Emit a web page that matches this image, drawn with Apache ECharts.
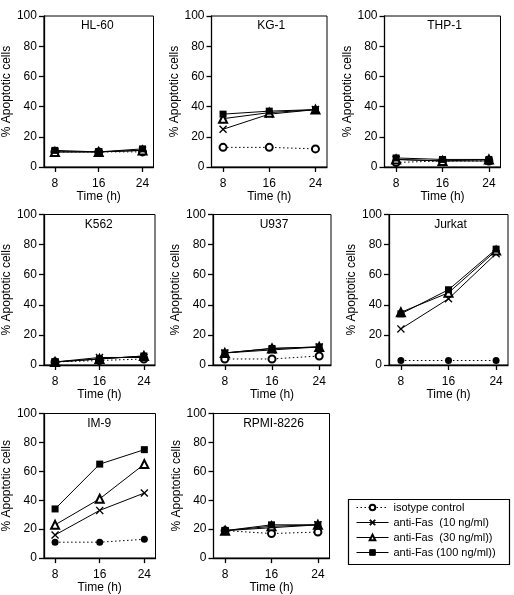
<!DOCTYPE html>
<html lang="en">
<head>
<meta charset="UTF-8">
<title>Apoptotic cells</title>
<script src="https://cdn.jsdelivr.net/npm/echarts@6/dist/echarts.min.js"></script>
<style>
  html, body { margin: 0; padding: 0; background: #fff; }
  #main { width: 514px; height: 595px; }
</style>
</head>
<body>
<div id="main"></div>
<script>
  // time points (h) and tick labels
  var times = [8, 16, 24];
  var xTicks = [8, 16, 24];

  var cellLines = ['HL-60', 'KG-1', 'THP-1', 'K562', 'U937', 'Jurkat', 'IM-9', 'RPMI-8226'];
  var seriesNames = ['isotype control', 'anti-Fas  (10 ng/ml)', 'anti-Fas  (30 ng/ml))', 'anti-Fas (100 ng/ml))'];

  // % apoptotic cells, one row per cell line (same order as cellLines)
  var isotype = [[10, 10, 10], [13, 13, 12], [3, 4, 4], [2, 3, 4], [4, 4, 6], [3, 3, 3], [11, 11, 13], [19, 17, 18]];
  var fas10   = [[10, 10, 11], [25, 35, 38], [5, 4, 4], [2, 5, 5], [8, 10, 12], [24, 44, 74], [16, 33, 45], [19, 21, 23]];
  var fas30   = [[10, 10, 11], [32, 36, 38], [5, 4, 5], [2, 4, 6], [8, 11, 12], [35, 48, 76], [23, 41, 65], [19, 22, 23]];
  var fas100  = [[11, 10, 12], [35, 37, 38], [6, 5, 5], [2, 4, 6], [8, 11, 12], [34, 50, 77], [34, 65, 75], [19, 23, 23]];

  // plot boxes: left, top, right, bottom (px)
  var boxes = [
    [37, 16, 153.5, 167], [211.5, 16, 327, 167], [384.5, 16, 500.5, 167],
    [38.5, 214.5, 155, 365], [213, 214.5, 331, 365], [389, 214.5, 508, 365],
    [39, 413.5, 155.5, 564], [213.5, 413.5, 329.5, 564]
  ];

  var font = "'Liberation Sans', Arial, sans-serif";
  var cross = 'path://M0,1.2L1.2,0L5,3.8L8.8,0L10,1.2L6.2,5L10,8.8L8.8,10L5,6.2L1.2,10L0,8.8L3.8,5Z';
  var allData = [isotype, fas10, fas30, fas100];

  var chart = echarts.init(document.getElementById('main'));

  var grids = [], xAxes = [], yAxes = [], titles = [], series = [];
  for (let i = 0; i < cellLines.length; i++) {
    var b = boxes[i];
    grids.push({
      left: b[0], top: b[1], width: b[2] - b[0], height: b[3] - b[1],
      show: true, borderColor: '#000', borderWidth: 1, backgroundColor: 'transparent'
    });
    xAxes.push({
      gridIndex: i, type: 'value', min: 6, max: 26,
      axisLine: { onZero: false, lineStyle: { color: '#000', width: 1.3 } },
      axisTick: { customValues: xTicks, length: 5, lineStyle: { color: '#000', width: 1.3 } },
      axisLabel: { customValues: xTicks, margin: 11, color: '#000', fontSize: 12, fontFamily: font },
      splitLine: { show: false },
      name: 'Time (h)', nameLocation: 'middle', nameGap: 20,
      nameTextStyle: { color: '#000', fontSize: 12, fontFamily: font }
    });
    yAxes.push({
      gridIndex: i, type: 'value', min: 0, max: 100, interval: 20,
      axisLine: { show: true, onZero: false, lineStyle: { color: '#000', width: 1.3 } },
      axisTick: { show: true, length: 5, lineStyle: { color: '#000', width: 1.3 } },
      axisLabel: { margin: 7, color: '#000', fontSize: 12, fontFamily: font },
      splitLine: { show: false },
      name: '% Apoptotic cells', nameLocation: 'middle', nameGap: 22, nameRotate: 90,
      nameTextStyle: { color: '#000', fontSize: 12, fontFamily: font }
    });
    titles.push({
      text: cellLines[i], left: (b[0] + b[2]) / 2 + 2, top: b[1] + 4, textAlign: 'center', padding: 0,
      textStyle: { color: '#000', fontSize: 12, fontWeight: 'normal', fontFamily: font }
    });

    // Jurkat and IM-9 use filled circles for the control
    var isoSym = (cellLines[i] === 'Jurkat' || cellLines[i] === 'IM-9') ? 'circle' : 'emptyCircle';
    var syms = [isoSym, cross, 'emptyTriangle', 'rect'];
    var sizes = [7, 8, 8, 7];
    for (let s = 0; s < 4; s++) {
      var empty = syms[s].indexOf('empty') === 0;
      series.push({
        type: 'line', name: seriesNames[s], xAxisIndex: i, yAxisIndex: i,
        data: times.map(function (t, k) { return [t, allData[s][i][k]]; }),
        symbol: syms[s], symbolSize: sizes[s], showAllSymbol: true,
        lineStyle: { color: '#000', width: 1, type: s === 0 ? [1.5, 2.5] : 'solid' },
        itemStyle: { color: '#000', borderColor: '#000', borderWidth: empty ? 1.1 : 0 },
        z: 2 + s, animation: false
      });
    }
  }

  var option = {
    backgroundColor: '#fff',
    animation: false,
    title: titles,
    grid: grids,
    xAxis: xAxes,
    yAxis: yAxes,
    legend: {
      data: seriesNames, orient: 'vertical', left: 356, top: 502, padding: 0,
      itemWidth: 32, itemHeight: 7, itemGap: 4, selectedMode: false,
      lineStyle: { width: 1 },
      itemStyle: { borderWidth: 1 },
      textStyle: { color: '#000', fontSize: 11, fontFamily: font, lineHeight: 10 }
    },
    graphic: [{
      type: 'rect', left: 346, top: 497,
      shape: { width: 161, height: 65 },
      style: { fill: 'none', stroke: '#000', lineWidth: 1.2 }
    }],
    series: series
  };
  chart.setOption(option);
</script>
</body>
</html>
